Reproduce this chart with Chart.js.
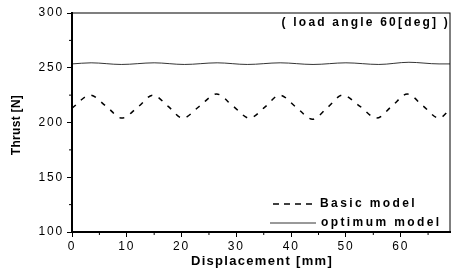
<!DOCTYPE html>
<html>
<head>
<meta charset="utf-8">
<script src="https://cdn.jsdelivr.net/npm/chart.js@4.4.1/dist/chart.umd.min.js"></script>
<style>
  html, body { margin: 0; padding: 0; background: #fff; }
  #wrap { width: 453px; height: 273px; }
</style>
</head>
<body>
<div id="wrap"><canvas id="thrustChart" width="453" height="273"></canvas></div>
<script>
// values (displacement in mm, thrust in N)
const basicX = [0, 3.3, 6.2, 9.1, 12.0, 14.8, 17.5, 20.2, 23.3, 26.4, 29.4, 32.4, 35.2, 37.9, 40.9, 43.9, 46.7, 49.4, 52.5, 55.6, 58.4, 61.2, 64.1, 67.0, 69];
const basicY = [213, 225, 215, 204, 214, 225, 215, 204, 215, 226, 215, 204, 214, 225, 214, 203, 214, 225, 215, 204, 215, 226, 215, 204, 212];
const optimumX = [0, 3.5, 9.0, 15.0, 20.5, 26.5, 32.0, 38.0, 44.0, 50.0, 56.0, 61.5, 67.0, 69];
const optimumY = [253.5, 254.5, 253, 254.5, 253, 254.5, 253, 254.5, 253, 254.5, 253, 255, 253.5, 253.5];
const xTicks = [0, 10, 20, 30, 40, 50, 60];
const yTicks = [100, 150, 200, 250, 300];

const FONT = '"Liberation Sans", Arial, sans-serif';

function toPoints(xs, ys) {
    return xs.map((x, i) => ({ x: x, y: ys[i] }));
}

// frame, minor ticks, axis titles, note and legend
const decorations = {
    id: 'decorations',
    beforeDraw(chart) {
        chart.ctx.letterSpacing = '1.8px';
    },
    afterDraw(chart) {
        const ctx = chart.ctx;
        const a = chart.chartArea;
        const xs = chart.scales.x, ys = chart.scales.y;
        ctx.save();
        ctx.strokeStyle = '#000';
        ctx.lineWidth = 1;
        ctx.strokeRect(a.left, a.top, a.right - a.left, a.bottom - a.top);
        ctx.lineWidth = 2;
        ctx.beginPath();
        ctx.moveTo(a.left, a.top);
        ctx.lineTo(a.left, a.bottom);
        ctx.lineTo(a.right, a.bottom);
        ctx.stroke();

        // minor ticks
        ctx.lineWidth = 1;
        ctx.beginPath();
        for (let v = 5; v < 69; v += 10) {
            const px = xs.getPixelForValue(v);
            ctx.moveTo(px, a.bottom);
            ctx.lineTo(px, a.bottom + 3);
        }
        for (let v = 125; v < 300; v += 50) {
            const py = ys.getPixelForValue(v);
            ctx.moveTo(a.left, py);
            ctx.lineTo(a.left - 3, py);
        }
        ctx.stroke();

        ctx.fillStyle = '#000';
        ctx.textBaseline = 'middle';

        // y title
        ctx.save();
        ctx.letterSpacing = '0.3px';
        ctx.font = 'bold 12px ' + FONT;
        ctx.translate(17, 125);
        ctx.rotate(-Math.PI / 2);
        ctx.textAlign = 'center';
        ctx.fillText('Thrust [N]', 0, 0);
        ctx.restore();

        // x title
        ctx.letterSpacing = '1.3px';
        ctx.font = 'bold 13px ' + FONT;
        ctx.textAlign = 'center';
        ctx.fillText('Displacement [mm]', 262, 261);

        // note
        ctx.font = 'bold 12px ' + FONT;
        ctx.letterSpacing = '2.2px';
        ctx.textAlign = 'right';
        ctx.fillText('( load angle 60[deg] )', 450, 23);

        // legend
        ctx.letterSpacing = '2.4px';
        ctx.textAlign = 'left';
        ctx.setLineDash([6, 5]);
        ctx.lineWidth = 1.5;
        ctx.beginPath();
        ctx.moveTo(273, 204);
        ctx.lineTo(316, 204);
        ctx.stroke();
        ctx.setLineDash([]);
        ctx.lineWidth = 0.8;
        ctx.beginPath();
        ctx.moveTo(270, 223);
        ctx.lineTo(316, 223);
        ctx.stroke();
        ctx.fillText('Basic model', 320, 204);
        ctx.fillText('optimum model', 321, 223);
        ctx.restore();
    }
};

const chart = new Chart(document.getElementById('thrustChart'), {
    type: 'line',
    data: {
        datasets: [
            {
                label: 'Basic model',
                data: toPoints(basicX, basicY),
                borderColor: '#000',
                borderWidth: 1.5,
                borderDash: [5, 7],
                pointRadius: 0,
                cubicInterpolationMode: 'monotone',
                fill: false
            },
            {
                label: 'optimum model',
                data: toPoints(optimumX, optimumY),
                borderColor: '#000',
                borderWidth: 0.8,
                pointRadius: 0,
                cubicInterpolationMode: 'monotone',
                fill: false
            }
        ]
    },
    options: {
        responsive: false,
        animation: false,
        layout: { padding: { top: 13, right: 3, left: 0, bottom: 0 } },
        plugins: {
            legend: { display: false },
            tooltip: { enabled: false }
        },
        scales: {
            x: {
                type: 'linear',
                min: 0,
                max: 69,
                afterBuildTicks: s => { s.ticks = xTicks.map(v => ({ value: v })); },
                afterFit: s => { s.height = 41; },
                grid: { display: true, drawOnChartArea: false, drawTicks: true, tickLength: 5, tickColor: '#000' },
                border: { display: true, color: '#000', width: 2 },
                ticks: {
                    color: '#000',
                    font: { family: FONT, size: 12 },
                    padding: 2,
                    maxRotation: 0
                }
            },
            y: {
                min: 100,
                max: 300,
                afterBuildTicks: s => { s.ticks = yTicks.map(v => ({ value: v })); },
                afterFit: s => { s.width = 72; },
                grid: { display: true, drawOnChartArea: false, drawTicks: true, tickLength: 5, tickColor: '#000' },
                border: { display: true, color: '#000', width: 2 },
                ticks: {
                    color: '#000',
                    font: { family: FONT, size: 12 },
                    padding: 3
                }
            }
        }
    },
    plugins: [decorations]
});
</script>
</body>
</html>
